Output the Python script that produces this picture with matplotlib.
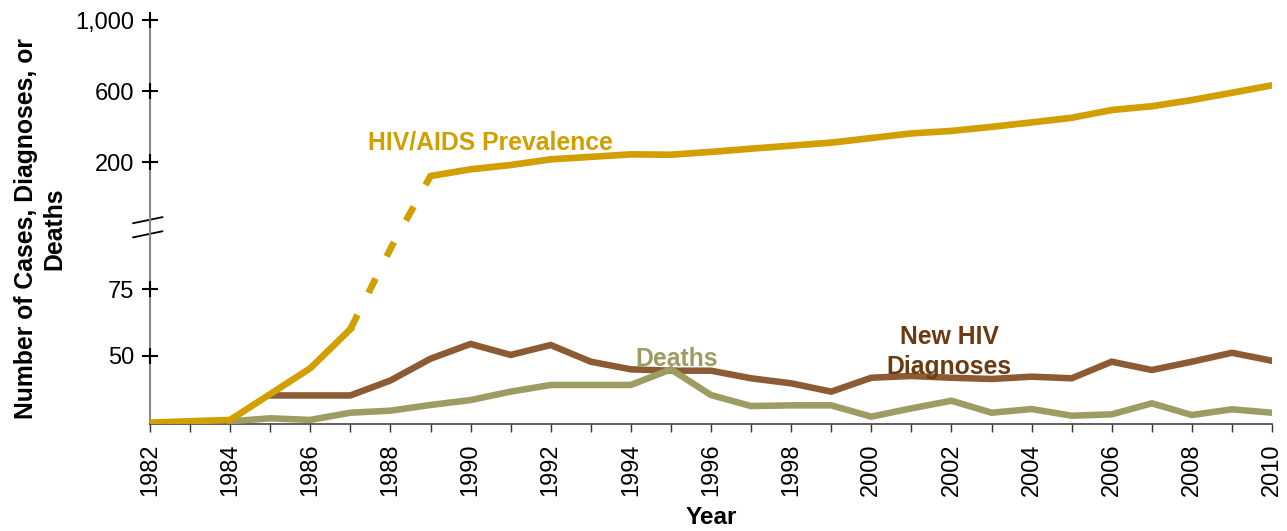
import numpy as np
import matplotlib
matplotlib.use('Agg')
from matplotlib import pyplot as plt

plt.rcParams['font.family'] = ['Liberation Sans', 'DejaVu Sans']

# data
years = list(range(1982, 2011))
prevalence = [1, 2, 3, 22, 41, 60, 90, 121, 159, 183, 215, 229, 243, 241, 257,
              275, 292, 309, 335, 361, 375, 398, 423, 449, 493, 514, 549, 590, 632]
diag_years = list(range(1985, 2011))
diagnoses = [21, 21, 21, 32, 48, 54.5, 50.4, 54.1, 45.8, 40.2, 39.2, 39.2, 33.6, 29.9,
             23.8, 34, 35.3, 34, 33.1, 34.8, 33.6, 45.8, 39.7, 45.8, 51.2, 46.5]
death_years = list(range(1984, 2011))
deaths = [2, 4.2, 3, 8.3, 9.8, 14, 17.6, 23.8, 28.7, 28.7, 28.7, 40.2, 21.3, 13.2,
          13.7, 13.7, 5.4, 11.5, 17.1, 8.3, 11, 6.1, 7.1, 15.2, 6.6, 10.8, 8.3]

ytick_vals = [50, 75, 200, 600, 1000]
ytick_labels = ['50', '75', '200', '600', '1,000']
xtick_vals = list(range(1982, 2011, 2))

# broken axis: lower part and upper part with a gap between
knot_v = [0, 50, 75, 100, 110, 200, 600, 1000]
knot_h = [0, 68, 135, 202, 246, 262, 333, 404]

def fwd(v):
    return np.interp(v, knot_v, knot_h)

def inv(h):
    return np.interp(h, knot_h, knot_v)

gold = '#D29F00'
brown = '#8C5B33'
olive = '#9C9C63'

fig = plt.figure(figsize=(12.87, 5.31), dpi=100)
ax = fig.add_axes([150/1287, 107/531, 1122/1287, 404/531])
ax.set_yscale('function', functions=(fwd, inv))

ax.plot(diag_years, diagnoses, color=brown, lw=4.7, zorder=2, solid_joinstyle='miter')
ax.plot(death_years, deaths, color=olive, lw=4.7, zorder=3, solid_joinstyle='miter')
i87 = years.index(1987)
i89 = years.index(1989)
ax.plot(years[:i87 + 1], prevalence[:i87 + 1], color=gold, lw=4.8, zorder=4)
ax.plot(years[i87:i89 + 1], prevalence[i87:i89 + 1], color=gold, lw=4.8, zorder=4,
        dashes=(2.4, 3.7), dash_capstyle='butt')
ax.plot(years[i89:], prevalence[i89:], color=gold, lw=4.8, zorder=4,
        solid_capstyle='round')

ax.set_xlim(1982, 2010)
ax.set_ylim(0, 1000)
ax.set_yticks(ytick_vals)
ax.set_yticklabels(ytick_labels)
ax.yaxis.set_minor_locator(matplotlib.ticker.NullLocator())
ax.set_xticks(xtick_vals)
ax.set_xticks(years, minor=True)
ax.tick_params(axis='x', which='both', direction='out', length=6, width=1,
               color='#333333', labelsize=17, labelrotation=90, pad=8)
ax.tick_params(axis='y', direction='inout', length=11, width=1.5, color='black',
               labelsize=17, pad=6)
# vertical arm of the "+" tick marks
ax.plot([1982] * len(ytick_vals), ytick_vals, ls='none', marker='|', ms=11,
        mew=1.5, color='black', clip_on=False, zorder=5)

for s in ['top', 'right']:
    ax.spines[s].set_visible(False)
ax.spines['left'].set_color('#888888')
ax.spines['left'].set_linewidth(1.5)
ax.spines['bottom'].set_color('#444444')
ax.spines['bottom'].set_linewidth(1.2)

# axis break marks
ax.plot([-0.015, 0.011], [0.497, 0.512], transform=ax.transAxes, color='black',
        lw=1.3, clip_on=False)
ax.plot([-0.015, 0.011], [0.462, 0.477], transform=ax.transAxes, color='black',
        lw=1.3, clip_on=False)

ax.set_xlabel('Year', fontsize=17.5, fontweight='bold', labelpad=7)
fig.text(40/1287, 1 - 229/531, 'Number of Cases, Diagnoses, or\nDeaths',
         rotation=90, ha='center', va='center', multialignment='center',
         fontsize=17.8, fontweight='bold', linespacing=1.25)

ax.text(1987.45, 273, 'HIV/AIDS Prevalence', color=gold, fontsize=17.8,
        fontweight='bold', ha='left', va='baseline')
ax.text(1995.14, 42.6, 'Deaths', color=olive, fontsize=17.8, fontweight='bold',
        ha='center', va='baseline')
ax.text(2001.94, 51.5, 'New HIV\nDiagnoses', color='#6B3A10', fontsize=17.8,
        fontweight='bold', ha='center', va='center', linespacing=1.3)

fig.savefig('out.png', dpi=100)
